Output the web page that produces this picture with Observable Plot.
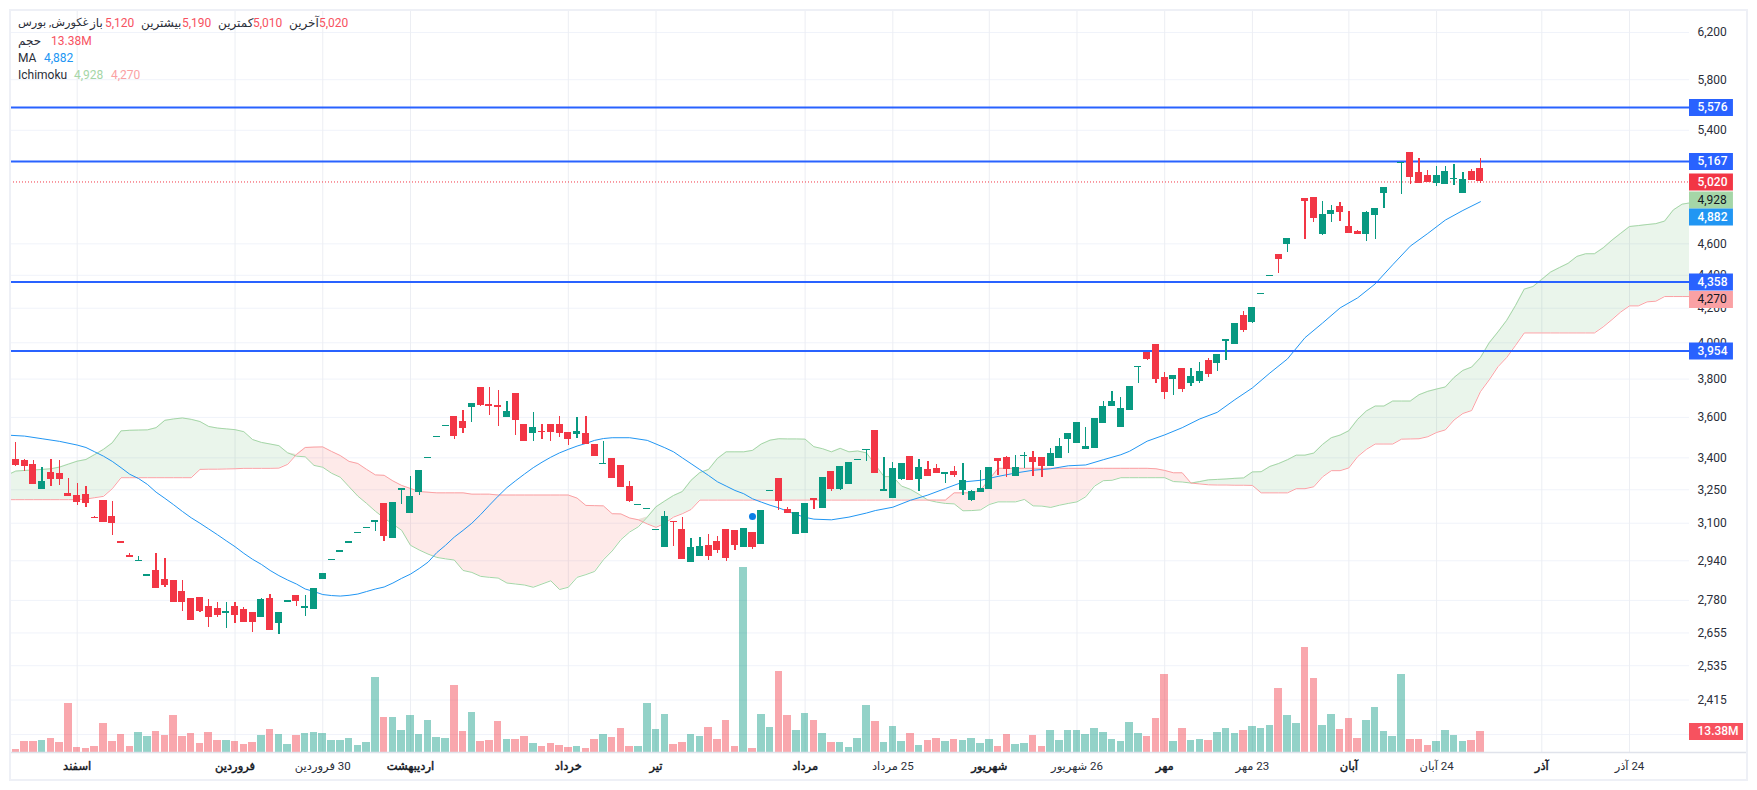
<!DOCTYPE html>
<html lang="fa">
<head>
<meta charset="utf-8">
<script src="https://cdn.jsdelivr.net/npm/d3@7"></script>
<script src="https://cdn.jsdelivr.net/npm/@observablehq/plot@0.6"></script>
<style>
html,body{margin:0;padding:0;background:#fff;width:1757px;height:790px;overflow:hidden}
body{font-family:Roboto,"Noto Sans","DejaVu Sans",sans-serif}
#stage{position:relative;width:1757px;height:790px}
#stage svg{position:absolute;left:0;top:0;max-width:none}
#frame{position:absolute;left:9px;top:9px;width:1739px;height:772px;box-sizing:border-box;border:2px solid #eef0f6;pointer-events:none}
.lg{position:absolute;font-size:12px;line-height:16px;white-space:nowrap;color:#2a2e39}
</style>
</head>
<body>
<div id="stage"><div id="frame"></div></div>
<script>
const opens=[3392,3387,3369,3252,3331,3327,3233,3224,3229,3125,
3202,3129,3019,2962,2937,2877,2901,2865,2861,2817,
2789,2793,2758,2750,2730,2758,2746,2734,2715,2789,
2691,2773,2801,2750,2746,2865,2941,2975,3013,3055,
3076,3105,3188,3034,3247,3142,3238,3397,3499,3553,
3607,3577,3649,3754,3665,3660,3597,3723,3563,3519,
3529,3563,3563,3524,3514,3519,3465,3370,3397,3364,
3264,3179,3161,3068,2996,3108,3072,2933,2958,3005,
3021,3072,3068,2996,3059,3009,3242,3303,3161,3051,
3055,3211,3165,3336,3252,3275,3387,3435,3533,3244,
3211,3298,3406,3298,3345,3350,3322,3336,3247,3202,
3238,3252,3397,3402,3312,3406,3402,3402,3359,3397,
3489,3470,3441,3445,3567,3654,3548,3633,3863,3946,
3991,3807,3796,3857,3775,3786,3902,3885,4007,3991,
4158,4117,4284,4393,4530,4596,4758,4906,4913,4660,
4796,4851,4712,4682,4660,4790,4940,5070,5155,5235,
5090,5068,5009,5002,5039,4940,5097,5120];
const highs=[3475,3392,3387,3355,3392,3387,3303,3280,3266,3129,
3202,3197,3019,2971,2958,2885,2971,2950,2861,2861,
2789,2793,2785,2773,2770,2773,2754,2734,2789,2805,
2734,2779,2801,2801,2829,2889,2947,2981,3019,3061,
3082,3110,3188,3192,3256,3312,3341,3403,3505,3559,
3607,3633,3670,3754,3754,3739,3681,3723,3563,3623,
3563,3563,3607,3524,3597,3602,3465,3480,3397,3364,
3286,3185,3167,3074,3152,3108,3127,3034,3038,3051,
3042,3072,3068,3076,3059,3156,3248,3303,3170,3147,
3188,3211,3308,3336,3360,3378,3393,3440,3533,3402,
3378,3373,3406,3392,3383,3369,3331,3359,3373,3247,
3341,3355,3397,3406,3411,3426,3431,3402,3445,3494,
3519,3572,3548,3592,3681,3733,3702,3760,3869,3946,
3991,3835,3819,3857,3857,3891,3913,3935,4019,4112,
4181,4204,4290,4399,4530,4634,4764,4906,4913,4885,
4857,4878,4815,4688,4815,4837,4982,5076,5162,5235,
5191,5104,5133,5133,5148,5090,5111,5190];
const lows=[3361,3337,3275,3252,3266,3270,3220,3179,3170,3120,
3102,3047,3013,2954,2937,2877,2829,2833,2773,2738,
2703,2734,2676,2715,2672,2691,2695,2656,2715,2664,
2650,2773,2758,2719,2746,2865,2941,2975,3013,3055,
3076,3063,3021,3034,3183,3142,3224,3397,3499,3553,
3489,3519,3572,3654,3612,3553,3597,3509,3480,3480,
3489,3480,3499,3460,3494,3465,3406,3370,3303,3261,
3192,3179,3161,3068,2996,3000,2946,2933,2958,2941,
2971,2935,2983,2996,2988,3009,3242,3156,3142,3051,
3055,3161,3165,3242,3248,3275,3387,3383,3326,3244,
3211,3294,3294,3242,3312,3327,3280,3308,3224,3197,
3238,3252,3317,3308,3312,3350,3312,3308,3359,3397,
3421,3470,3441,3445,3567,3654,3548,3633,3775,3902,
3775,3691,3712,3728,3760,3775,3807,3841,3902,3991,
4060,4111,4284,4393,4410,4543,4758,4630,4744,4654,
4744,4750,4667,4660,4615,4630,4837,5070,4933,5002,
5009,5017,4991,5002,4995,4940,5031,5010];
const closes=[3364,3359,3275,3289,3298,3298,3220,3192,3188,3120,
3102,3097,3013,2954,2943,2883,2829,2841,2773,2770,
2703,2738,2715,2723,2736,2723,2695,2695,2785,2664,
2734,2779,2777,2758,2829,2889,2947,2981,3019,3061,
3082,3110,3042,3192,3256,3220,3341,3403,3505,3559,
3504,3543,3670,3660,3654,3649,3628,3582,3480,3548,
3524,3524,3519,3489,3528,3465,3406,3375,3303,3261,
3197,3185,3167,3074,3129,3104,2946,2996,3000,2958,
2983,2950,3005,3076,2996,3156,3248,3197,3142,3147,
3188,3202,3308,3252,3360,3378,3393,3440,3326,3250,
3350,3373,3294,3355,3312,3327,3331,3317,3294,3242,
3256,3355,3383,3345,3355,3411,3378,3359,3421,3455,
3519,3572,3455,3592,3654,3681,3644,3760,3869,3907,
3796,3728,3819,3744,3813,3841,3824,3935,4019,4112,
4071,4204,4290,4399,4497,4634,4764,4885,4770,4796,
4822,4809,4667,4660,4809,4837,4982,5076,5162,5053,
5009,5017,5068,5097,5046,5039,5031,5020];
const volumes=[2.1,7.1,7.1,7.7,9,6.5,30.9,3.3,2.7,4,
18.4,7.1,11.5,4,12.7,10.2,13.4,10.9,23.4,10.2,
12.1,5.9,12.7,7.7,7.7,7.1,5.2,6.5,10.9,14.6,
11.5,5.2,10.9,12.1,12.7,12.1,7.7,7.7,9,4.6,
6.5,47.9,22.2,22.2,14,23.4,11.5,20.3,9.6,9,
42.8,13.4,25.3,7.1,7.7,19.6,8.4,8.4,10.2,5.9,
4,5.9,4.6,3.3,4,2.7,8.4,11.5,9.6,15.3,
4,4,30.9,14.6,24,5.2,6.5,11.5,10.2,15.9,
8.4,20.3,4,118,2.7,24,15.9,51.6,23.4,14,
24.7,20.3,12.1,6.5,6.5,3.3,9,29.7,19.6,6.5,
16.5,7.1,12.1,4.6,7.7,9,7.1,8.4,7.7,9,
5.9,8.4,4,11.5,5.2,5.9,10.9,4,14,7.7,
14,14,11.5,15.3,12.7,8.4,7.1,19,12.1,10.2,
21.5,49.7,7.1,15.3,7.7,8.4,7.7,12.7,15.3,12.1,
14,16.5,15.3,17.1,41,23.4,18.4,66.7,47.2,17.1,
24,14.6,21.5,9,20.3,28.4,13.4,10.2,49.7,8.4,
8.4,4.6,7.1,14,10.9,7.1,7.7,13.38];
const maIndex=[-1,1,3,5,7,8,9,10,11,12,13,14,15,16,17,18,19,20,21,22,23,24,25,26,27,28,29,30,31,32,33,34,35,36,37,38,39,40,41,42,43,44,45,46,47,48,49,50,51,52,53,54,55,56,57,58,59,60,61,62,63,64,65,66,67,68,70,72,73,74,75,76,77,78,79,80,81,82,83,84,85,86,87,88,89,90,91,93,95,97,98,100,102,104,106,108,110,112,114,116,118,120,122,124,126,127,129,131,133,135,137,139,141,143,145,147,149,151,153,155,157,159,161,163,165,167];
const maValues=[3511,3506,3493,3480,3462,3450,3429,3408,3383,3353,3322,3302,3275,3239,3211,3182,3152,3124,3100,3075,3050,3024,2999,2971,2946,2925,2900,2879,2861,2845,2825,2815,2803,2799,2797,2800,2805,2815,2825,2833,2849,2868,2885,2908,2934,2974,3005,3040,3069,3100,3138,3180,3221,3260,3292,3323,3353,3379,3403,3424,3441,3457,3470,3485,3494,3498,3498,3485,3467,3449,3429,3400,3372,3344,3316,3287,3267,3247,3232,3209,3194,3180,3168,3153,3138,3126,3118,3115,3127,3145,3156,3171,3202,3226,3256,3286,3294,3312,3328,3341,3348,3362,3366,3391,3415,3432,3481,3512,3548,3592,3626,3691,3753,3833,3910,4029,4113,4202,4262,4347,4466,4585,4668,4757,4822,4882];
const spanA=[3318,3337,3340,3342,3345,3348,3356,3370,3384,3392,
3416,3441,3473,3532,3535,3536,3537,3548,3585,3592,
3597,3590,3579,3554,3546,3542,3538,3528,3489,3475,
3467,3459,3424,3408,3405,3364,3355,3327,3308,3264,
3221,3188,3153,3123,3096,3069,3005,2985,2968,2954,
2948,2943,2900,2892,2876,2872,2869,2849,2845,2841,
2832,2845,2858,2823,2832,2872,2883,2896,2944,2981,
3029,3062,3085,3127,3173,3199,3224,3242,3294,3330,
3345,3397,3429,3429,3429,3436,3467,3486,3493,3492,
3492,3491,3454,3444,3429,3446,3429,3433,3424,3367,
3311,3311,3267,3252,3229,3203,3194,3188,3186,3155,
3156,3159,3183,3195,3195,3195,3206,3177,3176,3170,
3180,3188,3195,3218,3267,3292,3294,3306,3306,3306,
3306,3306,3306,3288,3286,3281,3288,3296,3298,3300,
3303,3305,3333,3334,3359,3373,3391,3413,3413,3423,
3465,3498,3511,3533,3590,3633,3658,3658,3684,3684,
3684,3717,3735,3747,3758,3809,3847,3865,3917,4000,
4062,4129,4216,4315,4331,4375,4420,4448,4475,4519,
4536,4536,4574,4624,4669,4714,4720,4727,4733,4750,
4826,4865,4875];
const spanB=[3205,3205,3205,3205,3205,3205,3205,3205,3205,3208,
3214,3220,3255,3306,3306,3306,3306,3306,3306,3306,
3306,3306,3345,3346,3346,3347,3348,3350,3350,3350,
3350,3351,3369,3416,3450,3452,3453,3431,3411,3383,
3373,3345,3319,3317,3291,3270,3256,3242,3239,3236,
3236,3236,3236,3230,3230,3230,3226,3226,3226,3226,
3226,3226,3226,3226,3226,3212,3179,3178,3177,3142,
3141,3123,3115,3097,3082,3100,3127,3142,3161,3203,
3203,3203,3203,3203,3203,3203,3203,3203,3203,3203,
3203,3203,3203,3203,3203,3203,3203,3203,3203,3203,
3203,3203,3203,3203,3203,3203,3203,3203,3236,3236,
3236,3248,3298,3350,3350,3350,3350,3350,3350,3350,
3350,3350,3350,3350,3350,3350,3350,3350,3350,3350,
3350,3348,3340,3329,3329,3281,3277,3273,3272,3272,
3271,3271,3270,3236,3236,3236,3236,3255,3255,3264,
3310,3339,3339,3352,3406,3441,3467,3467,3467,3491,
3492,3493,3503,3524,3537,3587,3620,3635,3733,3796,
3867,3918,3985,4056,4056,4056,4056,4056,4056,4056,
4056,4056,4091,4133,4178,4214,4214,4238,4242,4270,
4270,4270,4270];
const priceTicks=[6200,5800,5400,4600,4400,4200,4000,3800,3600,3400,3250,3100,2940,2780,2655,2535,2415];
const priceGrid=[...priceTicks,2300];
const levelLines=[5576,5167,4358,3954];
const lastPrice=5020;
const signalIndex=[84];
const signalPrice=[3130];
const monthTicks=[7,25,45,63,73,90,111,131,152,174];
const monthLabels=["اسفند","فروردین","اردیبهشت","خرداد","تیر","مرداد","شهریور","مهر","آبان","آذر"];
const dayTicks=[35,100,121,141,162,184];
const dayLabels=["30 فروردین","25 مرداد","26 شهریور","23 مهر","24 آبان","24 آذر"];
const tagPrices=[5576,5167,5020,4894,4778,4358,4252,3954];
const tagTexts=["5,576","5,167","5,020","4,928","4,882","4,358","4,270","3,954"];
const tagFills=["#2962ff","#2962ff","#f23645","#a5d6a7","#2196f3","#2962ff","#faa1a4","#2962ff"];
const tagInks=["#fff","#fff","#fff","#131722","#fff","#fff","#131722","#fff"];

const UP="#089981",DOWN="#f23645",GRID="#f0f3fa",XMIN=-0.604,XMAX=190.84,XTAG=195.85,XVOL=197;
const xDomain=[XMIN,XMAX];
const candles=opens.map((o,i)=>({i,o,h:highs[i],l:lows[i],c:closes[i],v:volumes[i],color:closes[i]>=o?UP:DOWN}));
const kumo=spanA.map((a,k)=>({i:k-1,a,b:spanB[k],top:Math.max(a,spanB[k])}));
const ma=maIndex.map((i,k)=>({i,v:maValues[k]}));
const ticksM=monthTicks.map((i,k)=>({i,t:monthLabels[k]}));
const ticksD=dayTicks.map((i,k)=>({i,t:dayLabels[k]}));
const tags=tagPrices.map((p,k)=>({p,t:tagTexts[k],f:tagFills[k],ink:tagInks[k]}));
const signals=signalIndex.map((i,k)=>({i,p:signalPrice[k]}));

const price=Plot.plot({
  width:1757,height:790,marginLeft:10,marginRight:68,marginTop:10,marginBottom:38,
  style:{background:"transparent",fontFamily:'Roboto,"Noto Sans","DejaVu Sans",sans-serif'},
  x:{domain:xDomain,axis:null},
  y:{type:"log",domain:[2242.5,6395.7],axis:null},
  marks:[
    Plot.gridY(priceGrid,{stroke:GRID,strokeOpacity:1}),
    Plot.gridX([...monthTicks,...dayTicks],{stroke:"#eceef3",strokeOpacity:1}),
    Plot.axisY(priceTicks,{anchor:"right",tickSize:0,tickPadding:8,tickFormat:",",fontSize:12,color:"#2a2e39",label:null}),
    Plot.areaY(kumo,{x:"i",y1:"b",y2:"top",fill:"#43a047",fillOpacity:0.11,clip:true}),
    Plot.areaY(kumo,{x:"i",y1:"a",y2:"top",fill:"#f44336",fillOpacity:0.11,clip:true}),
    Plot.lineY(kumo,{x:"i",y:"a",stroke:"#a5d6a7",strokeWidth:1,clip:true}),
    Plot.lineY(kumo,{x:"i",y:"b",stroke:"#faa1a4",strokeWidth:1,clip:true}),
    Plot.lineY(ma,{x:"i",y:"v",stroke:"#2196f3",strokeWidth:1,clip:true}),
    Plot.ruleY([lastPrice],{stroke:DOWN,strokeWidth:1,strokeDasharray:"1,2"}),
    Plot.ruleY(levelLines,{stroke:"#2962ff",strokeWidth:2}),
    Plot.ruleX(candles,{x:"i",y1:"l",y2:"h",stroke:"color",strokeWidth:1.3,shapeRendering:"crispEdges"}),
    Plot.rect(candles,{x1:d=>d.i-0.4,x2:d=>d.i+0.4,y1:"o",y2:"c",fill:"color",shapeRendering:"crispEdges"}),
    Plot.dot(signals,{x:"i",y:"p",r:3.5,fill:"#0a7ee6"}),
    Plot.ruleY(tags,{y:"p",x1:XMAX,x2:XTAG,stroke:"f",strokeWidth:17}),
    Plot.text(tags.filter(d=>d.ink==="#fff"),{x:()=>XMAX,y:"p",text:"t",dx:8,textAnchor:"start",fill:"ink",fontSize:12,fontWeight:500}),
    Plot.text(tags.filter(d=>d.ink!=="#fff"),{x:()=>XMAX,y:"p",text:"t",dx:8,textAnchor:"start",fill:"ink",fontSize:12,fontWeight:400})
  ]
});

const volume=Plot.plot({
  width:1757,height:790,marginLeft:10,marginRight:68,marginTop:0,marginBottom:38,
  style:{background:"transparent",fontFamily:'Roboto,"Noto Sans","DejaVu Sans",sans-serif'},
  x:{domain:xDomain,axis:null},
  y:{domain:[0,479.1],axis:null},
  marks:[
    Plot.rect(candles,{x1:d=>d.i-0.43,x2:d=>d.i+0.43,y1:0,y2:"v",fill:"color",fillOpacity:0.44,shapeRendering:"crispEdges"}),
    Plot.ruleY([0],{x1:XMIN,x2:197.4,stroke:"#e0e3eb",strokeWidth:1.5}),
    Plot.ruleY([13.38],{x1:XMAX,x2:XVOL,stroke:"#f7525f",strokeWidth:17}),
    Plot.text(["13.38M"],{x:()=>XMAX,y:()=>13.38,text:d=>d,dx:8,textAnchor:"start",fill:"#fff",fontSize:12,fontWeight:500}),
    Plot.text(ticksM,{x:"i",text:"t",frameAnchor:"bottom",dy:17,fontSize:11.5,fill:"#131722",stroke:"#131722",strokeWidth:0.45}),
    Plot.text(ticksD,{x:"i",text:"t",frameAnchor:"bottom",dy:17,fontSize:11.5,fill:"#2a2e39"})
  ]
});

// Persian axis labels read right to left, so "30" sits on the right of the month name
for(const t of volume.querySelectorAll("text")){
  if(/[\u0600-\u06ff]/.test(t.textContent)) t.style.direction="rtl";
}

const stage=document.getElementById("stage");
stage.prepend(volume);
stage.prepend(price);

const legendItems=[
 ["غکورش, بورس",18,23,"#2a2e39",11.3],["باز",90,23,"#2a2e39",12],["5,120",105,23,"#f7525f",12],
 ["بیشترین",141,23,"#2a2e39",12],["5,190",182,23,"#f7525f",12],["کمترین",218,23,"#2a2e39",12],["5,010",253,23,"#f7525f",12],
 ["آخرین",289,23,"#2a2e39",12],["5,020",319,23,"#f7525f",12],
 ["حجم",18,41,"#2a2e39",12],["13.38M",51,41,"#f7525f",12],
 ["MA",18,58,"#2a2e39",12],["4,882",44,58,"#2196f3",12],
 ["Ichimoku",18,75,"#2a2e39",12],["4,928",74,75,"#a5d6a7",12],["4,270",111,75,"#faa1a4",12]
];
for(const [t,x,y,c,fs] of legendItems){
  const s=document.createElement("span");
  s.className="lg";s.textContent=t;s.style.left=x+"px";s.style.top=(y-8)+"px";s.style.color=c;s.style.fontSize=fs+"px";
  stage.appendChild(s);
}
</script>
</body>
</html>
